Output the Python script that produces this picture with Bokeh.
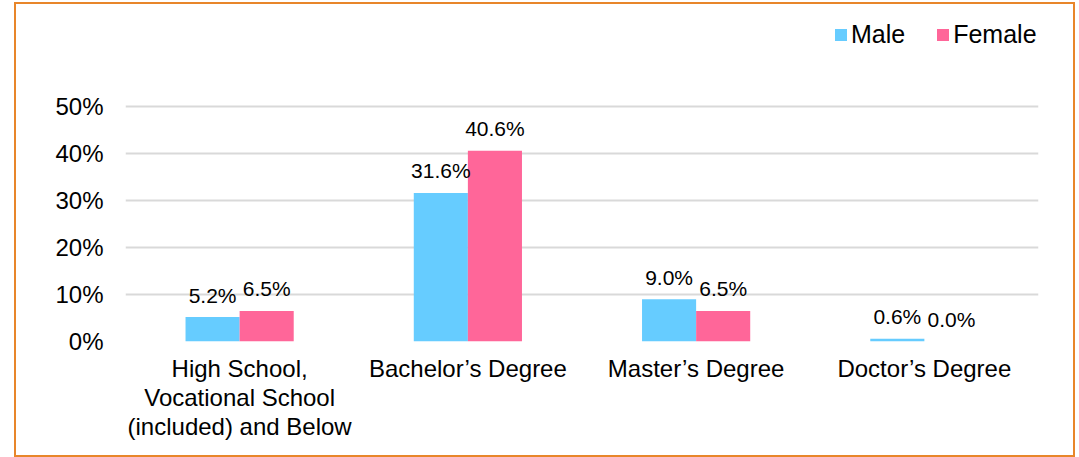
from bokeh.plotting import figure
from bokeh.models import ColumnDataSource, FactorRange, Range1d, Legend, LegendItem, PrintfTickFormatter, FixedTicker
from bokeh.transform import dodge
from bokeh.core.properties import value
from bokeh.embed import file_html
from bokeh.resources import INLINE

categories = ["High School,\nVocational School\n(included) and Below",
              "Bachelor\u2019s Degree", "Master\u2019s Degree", "Doctor\u2019s Degree"]
male = [5.2, 31.6, 9.0, 0.6]
female = [6.5, 40.6, 6.5, 0.0]
y_ticks = [0, 10, 20, 30, 40, 50]

MALE_C = "#66CCFF"
FEMALE_C = "#FF6699"
FONT = "Liberation Sans"

src = ColumnDataSource(dict(
    cat=categories, male=male, female=female,
    male_lbl=[f"{v:.1f}%" for v in male],
    female_lbl=[f"{v:.1f}%" for v in female],
))

p = figure(x_range=FactorRange(*categories), y_range=Range1d(0, 70.43),
           width=1061, height=455, output_backend="svg", toolbar_location=None,
           min_border_left=109, min_border_right=39, min_border_top=6, min_border_bottom=118)
p.styles = {"border": "2px solid #E8862A", "margin-left": "14px", "margin-top": "2px"}
p.outline_line_color = None
p.background_fill_color = "white"
p.border_fill_color = "white"

bw = 0.237
rm = p.vbar(x=dodge("cat", -bw / 2, range=p.x_range), top="male", width=bw, source=src,
            fill_color=MALE_C, line_color=None)
rf = p.vbar(x=dodge("cat", bw / 2, range=p.x_range), top="female", width=bw, source=src,
            fill_color=FEMALE_C, line_color=None)

p.text(x=dodge("cat", -bw / 2, range=p.x_range), y="male", text="male_lbl", source=src,
       text_align="center", text_baseline="alphabetic", y_offset=-22,
       text_font=value(FONT), text_font_size="21px", text_color="#000000")
p.text(x=dodge("cat", bw / 2, range=p.x_range), y="female", text="female_lbl", source=src,
       text_align="center", text_baseline="alphabetic", y_offset=-22,
       text_font=value(FONT), text_font_size="21px", text_color="#000000")

p.xgrid.grid_line_color = None
p.ygrid.grid_line_color = "#D9D9D9"
p.ygrid.grid_line_width = 2
p.ygrid.ticker = FixedTicker(ticks=y_ticks)
p.yaxis.ticker = FixedTicker(ticks=y_ticks)
p.yaxis.formatter = PrintfTickFormatter(format="%d%%")
for ax in (p.xaxis, p.yaxis):
    ax.axis_line_color = None
    ax.major_tick_line_color = None
    ax.minor_tick_line_color = None
    ax.major_label_text_font = FONT
    ax.major_label_text_font_size = "24px"
    ax.major_label_text_color = "#000000"
p.yaxis.major_label_standoff = 16
p.xaxis.major_label_standoff = 7
p.xaxis.major_label_text_line_height = 1.08

legend = Legend(items=[LegendItem(label="Male", renderers=[rm]),
                       LegendItem(label="Female", renderers=[rf])],
                orientation="horizontal", location=(708, 292),
                glyph_width=15, glyph_height=15, label_standoff=3, spacing=30,
                padding=0, margin=0, border_line_color=None, background_fill_alpha=0,
                label_text_font=FONT, label_text_font_size="25px", label_text_color="#000000")
p.add_layout(legend)

open("out.html", "w").write(file_html(p, INLINE))
